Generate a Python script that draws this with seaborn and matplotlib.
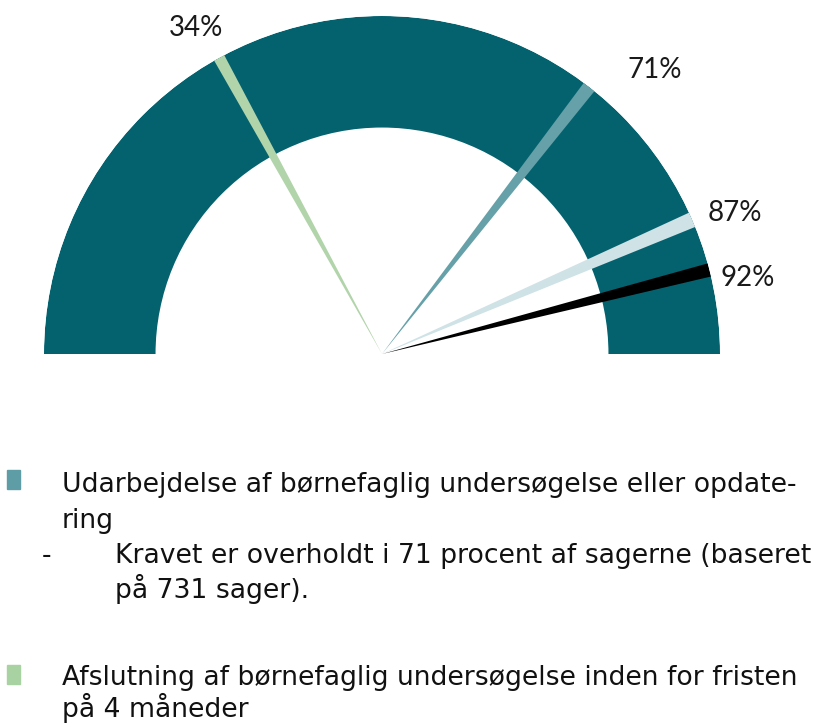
import numpy as np
import matplotlib
matplotlib.use("Agg")
import matplotlib.pyplot as plt
import seaborn as sns
from matplotlib.patches import Rectangle

# ---- data ----
needle_values = [0.34, 0.71, 0.87, 0.92]
needle_labels = ["34%", "71%", "87%", "92%"]
legend_lines = [
    "Udarbejdelse af børnefaglig undersøgelse eller opdate-",
    "ring",
    "Kravet er overholdt i 71 procent af sagerne (baseret",
    "på 731 sager).",
    "Afslutning af børnefaglig undersøgelse inden for fristen",
    "på 4 måneder",
]

# ---- style ----
band_color = "#04626F"
needle_colors = ["#B2D4AA", "#66A1A9", "#CFE2E6", "#000000"]
needle_widths = [0.034, 0.040, 0.046, 0.040]
label_dtheta = [1.0, -6.0, -1.6, -2.7]   # degrees offset of label from needle
label_r = [1.11, 1.165, 1.125, 1.106]
inner_r = 0.67

sns.set_theme(style="white")
plt.rcParams["font.family"] = ["DejaVu Sans"]

W, H = 822, 726
fig = plt.figure(figsize=(W / 100, H / 100), dpi=100)

cx, cy, R = 382, 354, 338
ax = fig.add_axes([(cx - R) / W, (H - cy - R) / H, 2 * R / W, 2 * R / H],
                  projection="polar")
ax.set_ylim(0, 1)
ax.axis("off")

# background half-donut band
ax.bar(np.pi / 2, 1 - inner_r, width=np.pi, bottom=inner_r,
       color=band_color, edgecolor="none", zorder=1)

# needles
for v, c, w in zip(needle_values, needle_colors, needle_widths):
    th = np.pi * (1 - v)
    ax.bar(th, 1.0, width=w, bottom=0, color=c, edgecolor="none", zorder=2)

# labels
for v, lab, dth, r in zip(needle_values, needle_labels, label_dtheta, label_r):
    th = np.pi * (1 - v) + np.deg2rad(dth)
    ax.text(th, r, lab, ha="center", va="center", fontsize=20,
            family=["Lato", "DejaVu Sans"], color="#1a1a1a")

# legend text
def fx(px):
    return px / W

def fy(py):
    return 1 - py / H

fs = 19.2
fig.text(fx(62), fy(492), legend_lines[0], fontsize=fs, va="baseline", color="#111111")
fig.text(fx(62), fy(528), legend_lines[1], fontsize=fs, va="baseline", color="#111111")
fig.text(fx(42), fy(563), "-", fontsize=fs, va="baseline", color="#111111")
fig.text(fx(115), fy(563), legend_lines[2], fontsize=fs, va="baseline", color="#111111")
fig.text(fx(115), fy(598), legend_lines[3], fontsize=fs, va="baseline", color="#111111")
fig.text(fx(62), fy(685), legend_lines[4], fontsize=fs, va="baseline", color="#111111")
fig.text(fx(62), fy(717), legend_lines[5], fontsize=fs, va="baseline", color="#111111")

for y0, col in [(470, "#5E9DA6"), (665, "#A9D2A2")]:
    fig.patches.append(Rectangle((fx(7), fy(y0 + 19)), 13 / W, 19 / H,
                                 transform=fig.transFigure, color=col))

fig.savefig("out.png", dpi=100, facecolor="white")
